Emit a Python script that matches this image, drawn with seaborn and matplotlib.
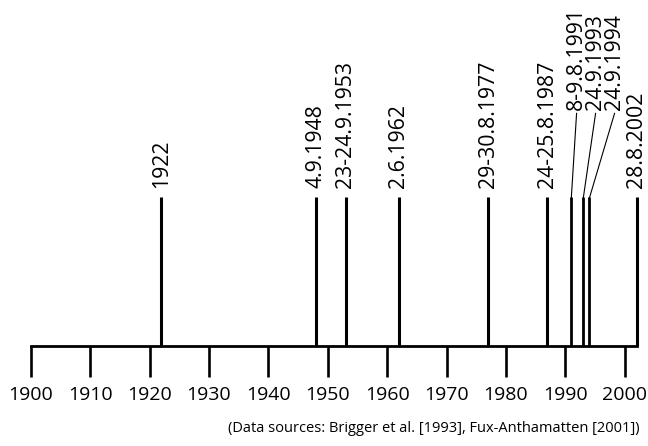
"""
Timeline of flood events (labels rotated above a year axis).
"""

import matplotlib
matplotlib.use("Agg")
import matplotlib.pyplot as plt
import seaborn as sns

# ------------------------------------------------------------------
# Data
# ------------------------------------------------------------------
event_years = [1922, 1948, 1953, 1962, 1977, 1987, 1991, 1993, 1994, 2002]
event_labels = ["1922", "4.9.1948", "23-24.9.1953", "2.6.1962", "29-30.8.1977",
                "24-25.8.1987", "8-9.8.1991", "24.9.1993", "24.9.1994", "28.8.2002"]
tick_years = [1900, 1910, 1920, 1930, 1940, 1950, 1960, 1970, 1980, 1990, 2000]
axis_start, axis_end = 1900, 2002
source_note = "(Data sources: Brigger et al. [1993], Fux-Anthamatten [2001])"

# crowded labels get shifted right and joined by a thin leader line
label_shift = {1991: 0.9, 1993: 2.1, 1994: 4.3}

# ------------------------------------------------------------------
# Layout (heights in pixels above the baseline)
# ------------------------------------------------------------------
W, H = 648, 446
BASE_Y = 345.7          # baseline, px from top
LINE_H = 148.5          # height of event lines
LABEL_H = 157.5         # where normal labels start
LEADER_H = 232.5        # top of leader lines
LEADER_LABEL_H = 235.5  # where shifted labels start
LABEL_SIZE = 15.3

sns.set_theme(style="white")
plt.rcParams["font.family"] = ["Open Sans", "DejaVu Sans"]

fig = plt.figure(figsize=(W / 100, H / 100), dpi=100)
ax = fig.add_axes([0, 1 - BASE_Y / H, 1, BASE_Y / H])

px_per_year = (624.7 - 30.7) / 100
x0 = 1900 - 30.7 / px_per_year
ax.set_xlim(x0, x0 + W / px_per_year)
ax.set_ylim(0, BASE_Y)

for yr, lab in zip(event_years, event_labels):
    if yr in label_shift:
        lx = yr + label_shift[yr]
        ax.plot([yr, yr], [0, LINE_H], color="black", lw=2.0,
                solid_capstyle="butt")
        ax.plot([yr, lx], [LINE_H - 2, LEADER_H], color="black", lw=0.8)
        ax.text(lx, LEADER_LABEL_H, lab, rotation=90, ha="center",
                va="bottom", fontsize=LABEL_SIZE, color="black")
    else:
        ax.plot([yr, yr], [0, LINE_H], color="black", lw=2.2,
                solid_capstyle="butt")
        ax.text(yr, LABEL_H, lab, rotation=90, ha="center", va="bottom",
                fontsize=LABEL_SIZE, color="black")

# year axis
for s in ["top", "left", "right"]:
    ax.spines[s].set_visible(False)
ax.spines["bottom"].set_bounds(axis_start, axis_end)
ax.spines["bottom"].set_linewidth(2.0)
ax.spines["bottom"].set_color("black")
ax.set_yticks([])
ax.set_xticks(tick_years)
ax.set_xticklabels([str(t) for t in tick_years])
ax.tick_params(axis="x", direction="out", length=22.3, width=1.9,
               color="black", labelsize=14, labelcolor="black", pad=7,
               bottom=True)
ax.patch.set_alpha(0)

fig.text(640 / W, 1 - 429 / H, source_note, ha="right", va="center",
         fontsize=10.5, color="black")

plt.savefig("out.png", dpi=100)
plt.close()
